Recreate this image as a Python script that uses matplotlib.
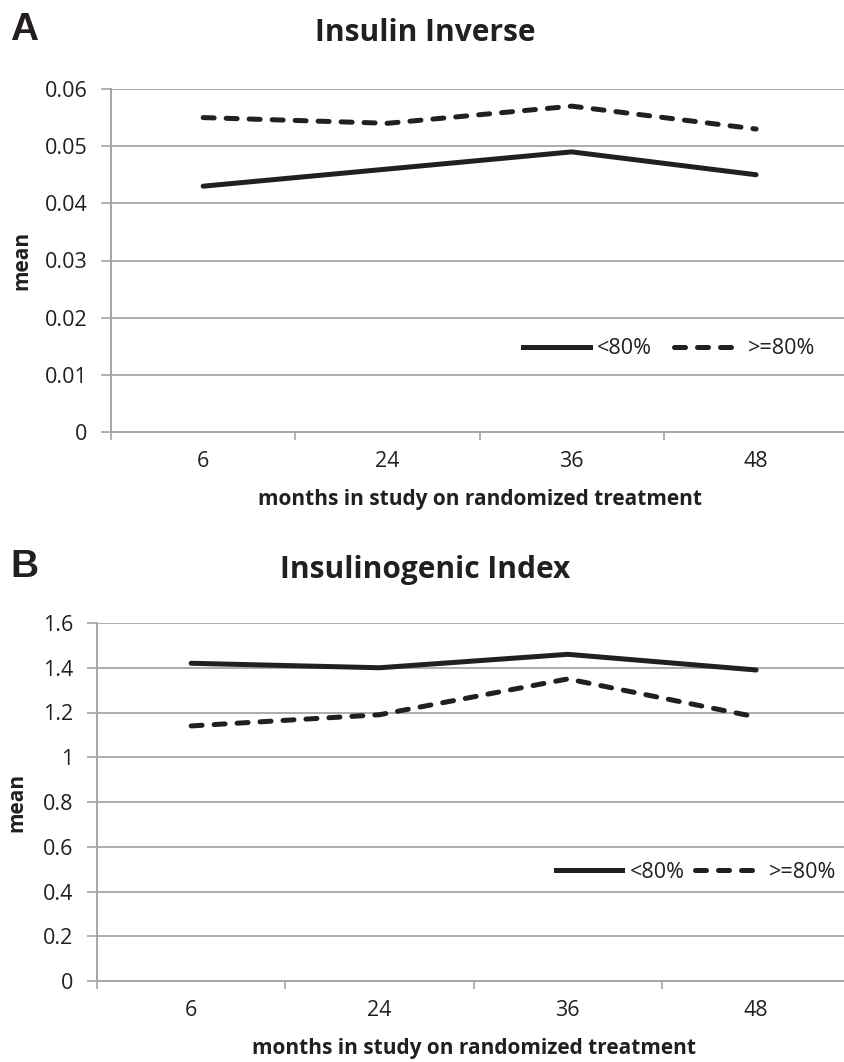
import matplotlib.pyplot as plt
from matplotlib.lines import Line2D

months = ["6", "24", "36", "48"]

inv_low = [0.043, 0.046, 0.049, 0.045]
inv_high = [0.055, 0.054, 0.057, 0.053]
inv_ticks = [0, 0.01, 0.02, 0.03, 0.04, 0.05, 0.06]
inv_ticklabels = ["0", "0.01", "0.02", "0.03", "0.04", "0.05", "0.06"]

igi_low = [1.42, 1.40, 1.46, 1.39]
igi_high = [1.14, 1.19, 1.35, 1.18]
igi_ticks = [0, 0.2, 0.4, 0.6, 0.8, 1.0, 1.2, 1.4, 1.6]
igi_ticklabels = ["0", "0.2", "0.4", "0.6", "0.8", "1", "1.2", "1.4", "1.6"]

series_names = ["<80%", ">=80%"]

plt.rcParams['font.family'] = ['Open Sans', 'DejaVu Sans']
grid_col = "#a6a6a6"
txt_col = "#231f20"
LW = 3.6
DASH = (2.2, 2.4)

fig = plt.figure(figsize=(8.44, 10.62), dpi=100)


def draw_panel(ax, low, high, ticks, ticklabels, leg_xy, colsp):
    x = range(len(months))
    ax.plot(x, low, color=txt_col, lw=LW, solid_capstyle="round")
    ax.plot(x, high, color=txt_col, lw=LW, dashes=DASH,
            dash_capstyle="round")
    ax.set_xlim(-0.5, 3.5)
    ax.set_ylim(ticks[0], ticks[-1])
    ax.set_yticks(ticks)
    ax.set_yticklabels(ticklabels)
    ax.set_xticks(x)
    ax.set_xticklabels(months)
    # excel style ticks between the categories
    ax.set_xticks([-0.5, 0.5, 1.5, 2.5], minor=True)
    ax.tick_params(axis="x", which="major", length=0, pad=14, labelsize=15.5,
                   colors=txt_col)
    ax.tick_params(axis="x", which="minor", length=6, width=1.2, color=grid_col)
    ax.tick_params(axis="y", length=7, width=1.2, color=grid_col, pad=10,
                   labelsize=15.5, labelcolor=txt_col)
    for t in ticks[1:]:
        ax.axhline(t, color=grid_col, lw=1.3, zorder=0)
    for side in ["top", "right"]:
        ax.spines[side].set_visible(False)
    for side in ["left", "bottom"]:
        ax.spines[side].set_color(grid_col)
        ax.spines[side].set_linewidth(1.4)
    ax.set_xlabel("months in study on randomized treatment", fontsize=15,
                  fontweight="bold", color=txt_col, labelpad=12)
    ax.set_ylabel("mean", fontsize=15, fontweight="bold", color=txt_col)
    handles = [Line2D([], [], color=txt_col, lw=LW),
               Line2D([], [], color=txt_col, lw=LW, dashes=DASH,
                      dash_capstyle="round")]
    fig.legend(handles, series_names, loc="center",
               bbox_to_anchor=(leg_xy[0] / 844, 1 - leg_xy[1] / 1062),
               ncol=2, frameon=False, fontsize=15.5, handlelength=3.1,
               handletextpad=0.35, columnspacing=colsp,
               labelcolor=txt_col)


axA = fig.add_axes([111 / 844, 1 - 432 / 1062, 4 * 184.3 / 844, 343 / 1062])
draw_panel(axA, inv_low, inv_high, inv_ticks, inv_ticklabels, (669, 349), 1.0)
axA.yaxis.set_label_coords(-0.107, 0.5)

axB = fig.add_axes([97 / 844, 1 - 981 / 1062, 4 * 188.3 / 844, 358 / 1062])
draw_panel(axB, igi_low, igi_high, igi_ticks, igi_ticklabels, (696, 872), 0.45)
axB.yaxis.set_label_coords(-0.092, 0.5)

fig.text(425 / 844, 1 - 33 / 1062, "Insulin Inverse", ha="center", va="center",
         fontsize=21.5, fontweight="bold", color=txt_col)
fig.text(425 / 844, 1 - 570 / 1062, "Insulinogenic Index", ha="center",
         va="center", fontsize=21.5, fontweight="bold", color=txt_col)
fig.text(10 / 844, 1 - 30 / 1062, "A", ha="left", va="center", fontsize=28,
         fontweight="bold", family="Liberation Sans", color=txt_col)
fig.text(10 / 844, 1 - 567 / 1062, "B", ha="left", va="center", fontsize=28,
         fontweight="bold", family="Liberation Sans", color=txt_col)

fig.savefig("out.png", dpi=100)
